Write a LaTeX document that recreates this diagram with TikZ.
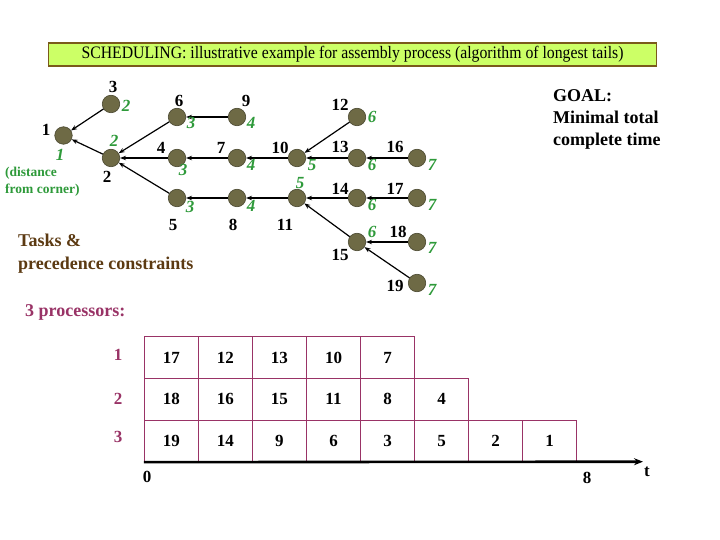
\documentclass[tikz,border=0pt]{standalone}
\usepackage{fontspec}
\setmainfont{Liberation Serif}
\newfontfamily\titlefont{Liberation Serif}[FakeStretch=0.9]
\usetikzlibrary{arrows.meta}
\definecolor{taskfill}{HTML}{6E6A45}
\definecolor{taskline}{HTML}{4A4830}
\definecolor{wgreen}{HTML}{2E9A3A}
\definecolor{pgrid}{HTML}{993366}
\definecolor{tbrown}{HTML}{5C3A12}
\definecolor{titlefill}{HTML}{CCFF66}
\definecolor{titleline}{HTML}{7A5A1A}
\tikzset{
  task/.style={circle,fill=taskfill,draw=taskline,line width=0.6bp,minimum size=17.5bp,inner sep=0pt},
  num/.style={font=\fontsize{17bp}{19bp}\selectfont\bfseries,inner sep=0pt},
  wt/.style={font=\fontsize{17bp}{19bp}\selectfont\bfseries\itshape,text=wgreen,inner sep=0pt},
  prec/.style={line width=1.2bp,-{Stealth[length=6bp,width=4.5bp]}},
  cell/.style={draw=pgrid,line width=0.8bp,minimum width=54.05bp,minimum height=41.7bp,inner sep=0pt,
    font=\fontsize{17bp}{19bp}\selectfont\bfseries},
  proc/.style={font=\fontsize{17bp}{19bp}\selectfont\bfseries,text=pgrid,inner sep=0pt},
  note/.style={font=\fontsize{18bp}{22bp}\selectfont\bfseries,inner sep=0pt,align=left}
}
\begin{document}
\begin{tikzpicture}[x=1bp,y=-1bp]
        \useasboundingbox[fill=white] (0,0) rectangle (720,540);
        \node[draw=titleline,line width=1.5bp,fill=titlefill,minimum width=608bp,minimum height=23bp,inner sep=0pt,
          font=\fontsize{17.5bp}{19bp}\titlefont] (title) at (352.5,54.5)
          {SCHEDULING: illustrative example for assembly process (algorithm of longest tails)};
        \node[task] (t1) at (63.5,135.5) {};
        \node[task] (t3) at (111,104) {};
        \node[task] (t2) at (111,158) {};
        \node[task] (t6) at (177,117) {};
        \node[task] (t9) at (237,117) {};
        \node[task] (t4) at (177,158) {};
        \node[task] (t7) at (237,158) {};
        \node[task] (t10) at (297,158) {};
        \node[task] (t5) at (177,198) {};
        \node[task] (t8) at (237,198) {};
        \node[task] (t11) at (297,198) {};
        \node[task] (t12) at (357,117) {};
        \node[task] (t13) at (357,158) {};
        \node[task] (t16) at (417,158) {};
        \node[task] (t14) at (357,198) {};
        \node[task] (t17) at (417,198) {};
        \node[task] (t15) at (357,242) {};
        \node[task] (t18) at (417,242) {};
        \node[task] (t19) at (417,283) {};
        \draw[prec] (t3) -- (t1);
        \draw[prec] (t2) -- (t1);
        \draw[prec] (t6) -- (t2);
        \draw[prec] (t4) -- (t2);
        \draw[prec] (t5) -- (t2);
        \draw[prec] (t9) -- (t6);
        \draw[prec] (t7) -- (t4);
        \draw[prec] (t10) -- (t7);
        \draw[prec] (t8) -- (t5);
        \draw[prec] (t11) -- (t8);
        \draw[prec] (t12) -- (t10);
        \draw[prec] (t13) -- (t10);
        \draw[prec] (t16) -- (t13);
        \draw[prec] (t14) -- (t11);
        \draw[prec] (t15) -- (t11);
        \draw[prec] (t17) -- (t14);
        \draw[prec] (t18) -- (t15);
        \draw[prec] (t19) -- (t15);
        \node[num] (n1) at (46,130) {1};
        \node[wt] (w1) at (60,155) {1};
        \node[num] (n3) at (113,87) {3};
        \node[wt] (w3) at (126,106) {2};
        \node[wt] (w2) at (114,141) {2};
        \node[num] (n2) at (107,177) {2};
        \node[num] (n6) at (179,101) {6};
        \node[wt] (w6) at (191,123) {3};
        \node[num] (n9) at (246,101) {9};
        \node[wt] (w9) at (251,123) {4};
        \node[num] (n4) at (161,148) {4};
        \node[wt] (w4) at (183,170) {3};
        \node[num] (n7) at (221,148) {7};
        \node[wt] (w7) at (251,165) {4};
        \node[num] (n10) at (280,148) {10};
        \node[wt] (w10) at (312,165) {5};
        \node[num] (n5) at (173,225) {5};
        \node[wt] (w5) at (190,207) {3};
        \node[num] (n8) at (233,225) {8};
        \node[wt] (w8) at (251,206) {4};
        \node[num] (n11) at (285,225) {11};
        \node[wt] (w11) at (300,183) {5};
        \node[num] (n12) at (340,105) {12};
        \node[wt] (w12) at (372,117) {6};
        \node[num] (n13) at (340,147) {13};
        \node[wt] (w13) at (372,165) {6};
        \node[num] (n16) at (395,147) {16};
        \node[wt] (w16) at (432,165) {7};
        \node[num] (n14) at (340,189) {14};
        \node[wt] (w14) at (372,205) {6};
        \node[num] (n17) at (395,189) {17};
        \node[wt] (w17) at (432,205) {7};
        \node[num] (n15) at (340,255) {15};
        \node[wt] (w15) at (372,232) {6};
        \node[num] (n18) at (398,232) {18};
        \node[wt] (w18) at (432,248) {7};
        \node[num] (n19) at (395,286) {19};
        \node[wt] (w19) at (432,290) {7};
        \node[font=\fontsize{13.5bp}{17bp}\selectfont\bfseries,text=wgreen,align=left,inner sep=0pt,anchor=west]
          (dist) at (5,181.5) {(distance\\from corner)};
        \node[note,anchor=north west] (goal) at (553,89) {GOAL:\\Minimal total\\complete time};
        \node[note,text=tbrown,font=\fontsize{18bp}{23bp}\selectfont\bfseries,anchor=west] (tasks) at (18,253.5)
          {Tasks \&\\precedence constraints};
        \node[note,text=pgrid,anchor=west] (procs) at (25,312) {3 processors:};
        \node[proc] (p1) at (118,355) {1};
        \node[proc] (p2) at (118,399) {2};
        \node[proc] (p3) at (118,437) {3};
        \node[cell] (c11) at (171.3,357.5) {17};
        \node[cell] (c12) at (225.4,357.5) {12};
        \node[cell] (c13) at (279.4,357.5) {13};
        \node[cell] (c14) at (333.5,357.5) {10};
        \node[cell] (c15) at (387.5,357.5) {7};
        \node[cell] (c21) at (171.3,399.2) {18};
        \node[cell] (c22) at (225.4,399.2) {16};
        \node[cell] (c23) at (279.4,399.2) {15};
        \node[cell] (c24) at (333.5,399.2) {11};
        \node[cell] (c25) at (387.5,399.2) {8};
        \node[cell] (c26) at (441.6,399.2) {4};
        \node[cell] (c31) at (171.3,440.9) {19};
        \node[cell] (c32) at (225.4,440.9) {14};
        \node[cell] (c33) at (279.4,440.9) {9};
        \node[cell] (c34) at (333.5,440.9) {6};
        \node[cell] (c35) at (387.5,440.9) {3};
        \node[cell] (c36) at (441.6,440.9) {5};
        \node[cell] (c37) at (495.6,440.9) {2};
        \node[cell] (c38) at (549.7,440.9) {1};
        \coordinate (tend) at (643,461.7);
        \draw[line width=2.6bp,-{Stealth[length=9bp,width=7bp]}] (c31.south west) -- (tend);
        \node[num] (zero) at (147,477) {0};
        \node[num] (eight) at (587,478) {8};
        \node[num] (tlab) at (647,472) {t};
      \end{tikzpicture}
\end{document}
